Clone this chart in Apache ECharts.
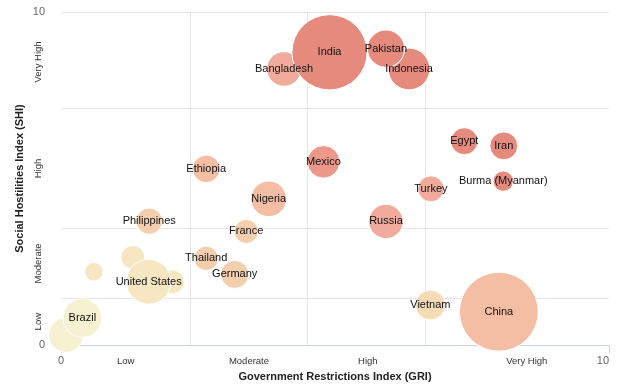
<!DOCTYPE html>
<html><head><meta charset="utf-8">
<script src="https://cdn.jsdelivr.net/npm/echarts@6/dist/echarts.min.js"></script>
<style>html,body{margin:0;padding:0;background:#fff}#c{width:640px;height:388px}</style>
</head><body><div id="c"></div>
<script>
// ---- data (drawing order: later items are drawn on top) ----
const countries = ['', 'Brazil', '', '', '', 'United States', 'Philippines', 'Thailand', 'Germany', 'France',
  'Ethiopia', 'Nigeria', 'Bangladesh', 'India', 'Indonesia', 'Pakistan', 'Mexico', 'Russia', 'Turkey',
  'Egypt', 'Iran', 'Burma (Myanmar)', 'Vietnam', 'China'];
const gri = [0.09, 0.39, 0.60, 1.31, 2.03, 1.60, 1.61, 2.65, 3.17, 3.38,
  2.65, 3.79, 4.07, 4.90, 6.35, 5.93, 4.79, 5.93, 6.75,
  7.36, 8.08, 8.07, 6.74, 7.99];
const shi = [0.30, 0.81, 2.20, 2.63, 1.90, 1.90, 3.72, 2.60, 2.12, 3.41,
  5.29, 4.39, 8.29, 8.79, 8.29, 8.90, 5.50, 3.71, 4.69,
  6.12, 5.98, 4.92, 1.20, 1.00];
const bubbleValue = [259, 323, 76, 123, 123, 433, 151, 129, 170, 125,
  163, 274, 259, 1225, 376, 300, 229, 256, 147,
  158, 168, 90, 193, 1347];
const level = [0, 0, 1, 1, 1, 1, 3, 3, 3, 3,
  4, 4, 5, 7, 7, 7, 6, 5, 5,
  7, 7, 7, 2, 4];
const griBreaks = [2.35, 4.5, 6.65];
const shiBreaks = [1.4, 3.5, 7.1, 10];
const categoryNames = ['Low', 'Moderate', 'High', 'Very High'];
const griCategoryCenters = [1.18, 3.43, 5.6, 8.5];
const shiCategoryCenters = [0.7, 2.45, 5.3, 8.5];
const axisEnds = [0, 10];

// ---- styles ----
const palette = ['#f6f1d0', '#f6e6c2', '#f5dbb6', '#f3cfad', '#f3bea3', '#f0ab9c', '#eb988b', '#e68a7e'];
const FONT = "'Liberation Sans', Arial, sans-serif";
const SIZE_K = 2.15;

const points = countries.map((n, i) => ({
  name: n,
  value: [gri[i], shi[i], bubbleValue[i]],
  itemStyle: { color: palette[level[i]] },
  label: { show: n !== '' }
}));

function catFormatter(centers) {
  return v => {
    const idx = centers.findIndex(c => Math.abs(c - v) < 1e-6);
    return idx >= 0 ? categoryNames[idx] : '';
  };
}

const chart = echarts.init(document.getElementById('c'), null, { renderer: 'canvas' });
chart.setOption({
  animation: false,
  backgroundColor: '#fff',
  grid: { left: 61, right: 31, top: 12, bottom: 43, containLabel: false, outerBoundsMode: 'none' },
  xAxis: [{
    type: 'value', min: 0, max: 10, position: 'bottom',
    name: 'Government Restrictions Index (GRI)', nameLocation: 'middle', nameGap: 26,
    nameMoveOverlap: false,
    nameTextStyle: { fontFamily: FONT, fontWeight: 'bold', fontSize: 11, color: '#222' },
    axisLine: { show: true, lineStyle: { color: '#ccd6eb', width: 1 } },
    axisTick: { show: false, customValues: griBreaks },
    splitLine: { show: true, lineStyle: { color: '#e6e6e6', width: 1 } },
    axisLabel: { customValues: axisEnds, margin: 10, fontFamily: FONT, fontSize: 11, color: '#666',
      alignMaxLabel: 'right' }
  }, {
    type: 'value', min: 0, max: 10, position: 'bottom',
    axisLine: { show: false },
    axisTick: { show: true, customValues: axisEnds, length: 8, lineStyle: { color: '#ccd6eb' } },
    splitLine: { show: false },
    axisLabel: { customValues: griCategoryCenters, formatter: catFormatter(griCategoryCenters),
      margin: 11, fontFamily: FONT, fontSize: 9.5, color: '#333' }
  }],
  yAxis: [{
    type: 'value', min: 0, max: 10, position: 'left',
    name: 'Social Hostilities Index (SHI)', nameLocation: 'middle', nameGap: 36,
    nameMoveOverlap: false,
    nameTextStyle: { fontFamily: FONT, fontWeight: 'bold', fontSize: 11, color: '#222' },
    axisLine: { show: false },
    axisTick: { show: false, customValues: shiBreaks },
    splitLine: { show: true, lineStyle: { color: '#e6e6e6', width: 1 } },
    axisLabel: { customValues: axisEnds, margin: 16, fontFamily: FONT, fontSize: 11, color: '#666' }
  }, {
    type: 'value', min: 0, max: 10, position: 'left',
    axisLine: { show: false }, axisTick: { show: false }, splitLine: { show: false },
    axisLabel: { customValues: shiCategoryCenters, formatter: catFormatter(shiCategoryCenters),
      rotate: 90, margin: 18, fontFamily: FONT, fontSize: 9.5, color: '#333' }
  }],
  series: [{
    type: 'scatter',
    xAxisIndex: 0, yAxisIndex: 0,
    clip: true,
    data: points,
    symbolSize: v => SIZE_K * Math.sqrt(v[2]),
    itemStyle: { opacity: 1, borderColor: '#fff', borderWidth: 1 },
    label: { position: 'inside', formatter: '{b}', fontFamily: FONT, fontSize: 11, color: '#111' },
    emphasis: { disabled: true }
  }]
});
</script></body></html>
